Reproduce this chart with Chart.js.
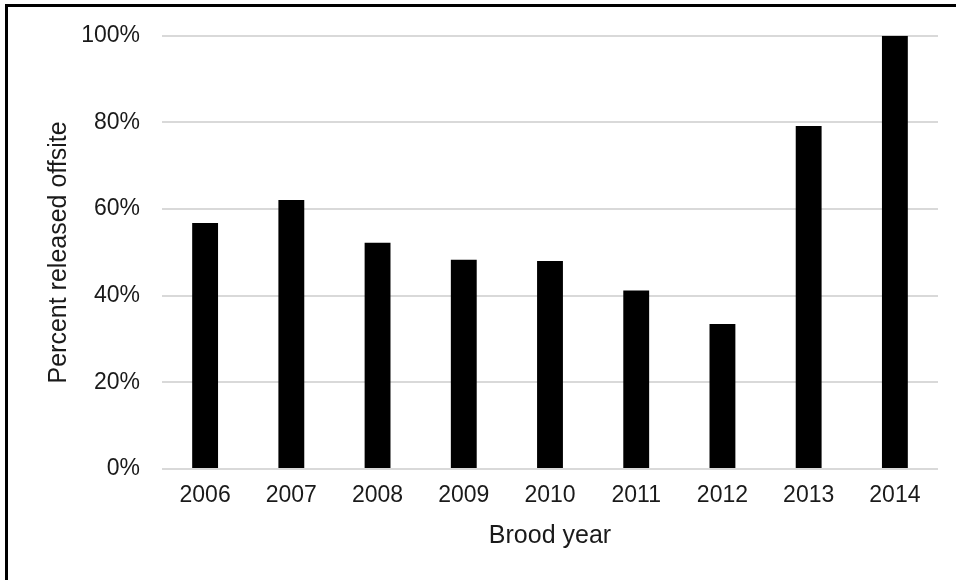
<!DOCTYPE html>
<html lang="en">
<head>
  <meta charset="UTF-8" />
  <title>Percent released offsite by brood year</title>
  <script src="https://cdn.jsdelivr.net/npm/chart.js"></script>
  <style>
    html, body {
      margin: 0;
      padding: 0;
      background: #ffffff;
      overflow: hidden;
    }
    .frame {
      position: absolute;
      left: 5px;
      top: 4px;
      width: 1200px;
      height: 900px;
      border: 3px solid #000;
      pointer-events: none;
    }
    canvas {
      position: absolute;
      left: 0;
      top: 0;
    }
  </style>
</head>
<body>
  <div class="frame"></div>
  <canvas id="chart" width="956" height="580"></canvas>

  <script>
    // data
    const years = ['2006', '2007', '2008', '2009', '2010', '2011', '2012', '2013', '2014'];
    const percentOffsite = [56.8, 62.1, 52.2, 48.3, 48.0, 41.2, 33.5, 79.2, 100];
    const yTicks = [0, 20, 40, 60, 80, 100];

    const fontFamily = "'Liberation Sans', Arial, sans-serif";
    const textColor = '#1a1a1a';

    new Chart(document.getElementById('chart'), {
      type: 'bar',
      data: {
        labels: years,
        datasets: [{
          data: percentOffsite,
          backgroundColor: '#000000',
          borderWidth: 0,
          categoryPercentage: 1,
          barPercentage: 0.3
        }]
      },
      options: {
        responsive: false,
        animation: false,
        layout: { padding: { top: 34, right: 18, bottom: 0, left: 0 } },
        plugins: {
          legend: { display: false },
          tooltip: { enabled: false }
        },
        scales: {
          x: {
            afterFit: (axis) => { axis.height = 111; },
            grid: { display: false, drawTicks: false },
            border: { display: false },
            ticks: {
              padding: 13,
              color: textColor,
              font: { family: fontFamily, size: 23 }
            },
            title: {
              display: true,
              text: 'Brood year',
              color: textColor,
              font: { family: fontFamily, size: 25 },
              padding: { top: 0, bottom: 29 }
            }
          },
          y: {
            min: 0,
            max: 100,
            afterFit: (axis) => { axis.width = 162; },
            afterBuildTicks: (axis) => { axis.ticks = yTicks.map(v => ({ value: v })); },
            grid: { color: '#d9d9d9', lineWidth: 2, drawTicks: false },
            border: { display: false },
            ticks: {
              padding: 22,
              color: textColor,
              font: { family: fontFamily, size: 23 },
              callback: (v) => v + '%'
            },
            title: {
              display: true,
              text: 'Percent released offsite',
              color: textColor,
              font: { family: fontFamily, size: 25 },
              padding: { top: 44, bottom: 0 }
            }
          }
        }
      }
    });
  </script>
</body>
</html>
